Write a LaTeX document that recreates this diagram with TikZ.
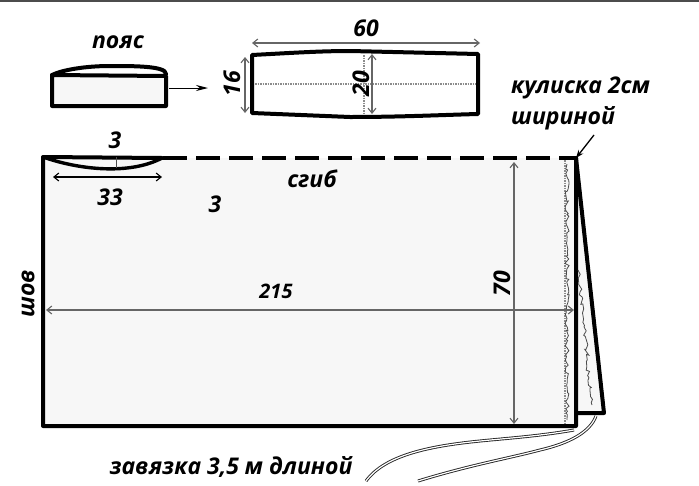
\documentclass[tikz,border=0pt]{standalone}
\usepackage{fontspec}
\setmainfont{Open Sans}
\usetikzlibrary{arrows.meta,decorations.pathmorphing}
\tikzset{
  contour/.style={line width=4pt, line join=round, line cap=round},
  foldline/.style={line width=4pt, dash pattern=on 24pt off 9pt},
  dimline/.style={black!60, line width=1.1pt, {Straight Barb[length=5pt,width=8pt]}-{Straight Barb[length=5pt,width=8pt]}},
  dotline/.style={black!45, line width=1.5pt, densely dotted},
  stitch/.style={black!70, line width=0.8pt, decorate, decoration={random steps, segment length=3pt, amplitude=2.2pt}},
  tie/.style={black!85, line width=0.9pt, double=white, double distance=1.2pt},
  lbl/.style={font=\bfseries\itshape\fontsize{23}{25}\selectfont, inner sep=0pt},
  lblsmall/.style={font=\bfseries\itshape\fontsize{20}{22}\selectfont, inner sep=0pt}
}
\begin{document}
\begin{tikzpicture}[x=1pt, y=-1pt]
  \useasboundingbox (0,0) rectangle (699,485);
  \fill[white] (0,0) rectangle (699,485);
  \fill[black!70] (0,0) rectangle (699,2);

  % points for the measures
  \coordinate (waistA) at (252,43);
  \coordinate (waistB) at (480,43);
  \coordinate (sideA) at (245,57);
  \coordinate (sideB) at (245,113);
  \coordinate (midA) at (372,54);
  \coordinate (midB) at (372,114);
  \coordinate (openA) at (53,177);
  \coordinate (openB) at (162,177);
  \coordinate (lenA) at (46,310);
  \coordinate (lenB) at (574,310);
  \coordinate (highA) at (514,162);
  \coordinate (highB) at (514,424);
  \coordinate (beltA) at (169,88);
  \coordinate (beltB) at (208,88);
  \coordinate (flapA) at (594,135);
  \coordinate (flapB) at (576,158);

  % panel
  \fill[black!3] (43,158) rectangle (576,426);
  \fill[black!3] (576,158) -- (604,413) -- (576,413) -- cycle;
  \draw[contour] (162,158) -- (43,157) -- (43,426) -- (576,426) -- (576,158);
  \draw[foldline] (163,158) -- (576,158);
  \draw[contour, line width=3.4pt] (43,157) .. controls (80,170) and (130,175) .. (162,158);
  \draw[black!70, line width=0.7pt] (116,157) -- (116,168);

  % casing flap
  \draw[contour] (576,158) -- (604,413) -- (578,413);
  \draw[dotline] (565,160) -- (565,424);
  \draw[stitch] (567,164) -- (567,420);
  \draw[stitch] (578,270) -- (592,405);

  % ties
  \draw[tie] (574,430) .. controls (540,436) and (510,438) .. (480,441) .. controls (430,446) and (385,455) .. (366,481);
  \draw[tie] (596,416) .. controls (590,432) and (570,443) .. (540,450) .. controls (510,458) and (470,465) .. (418,481);

  % small belt
  \fill[black!3] (52,76) rectangle (166,105);
  \draw[contour] (52,106) -- (52,75) -- (166,76) -- (166,106) -- cycle;
  \draw[contour] (52,75) .. controls (62,70) and (85,66) .. (110,66) .. controls (135,66) and (166,66) .. (166,74);
  \draw[black, line width=1pt, -{Stealth[length=12pt,width=6pt]}] (beltA) -- (beltB);

  % open belt
  \draw[contour] (252,55) .. controls (290,53) and (320,51) .. (350,51) -- (478,54) -- (478,114) .. controls (440,115) and (400,117) .. (350,117) -- (252,113) -- cycle;
  \draw[dotline] (255,84) -- (476,84);
  \draw[dotline] (364,55) -- (364,115);

  % measures
  \draw[dimline] (waistA) -- (waistB);
  \draw[dimline] (sideA) -- (sideB);
  \draw[dimline] (midA) -- (midB);
  \draw[dimline, black] (openA) -- (openB);
  \draw[dimline] (lenA) -- (lenB);
  \draw[dimline] (highA) -- (highB);
  \draw[black, line width=1.3pt, -{Stealth[length=8pt,width=6pt]}] (flapA) -- (flapB);

  % labels
  \node[lbl] (beltname) at (118,42) {пояс};
  \node[lbl] (waistlen) at (366,28) {60};
  \node[lbl, rotate=90] (sidelen) at (232,84) {16};
  \node[lbl, rotate=90] (midlen) at (361,84) {20};
  \node[lbl] (cutdepth) at (115,140) {3};
  \node[lbl] (cutlen) at (110,197) {33};
  \node[lbl] (foldname) at (312,179) {сгиб};
  \node[lbl] (panelmark) at (215,204) {3};
  \node[lblsmall] (panellen) at (276,291) {215};
  \node[lbl, rotate=90] (panelhigh) at (502,284) {70};
  \node[lbl, rotate=90] (seamname) at (28,294) {шов};
  \node[lbl, anchor=west] (casing) at (511,88) {кулиска 2см};
  \node[lbl, anchor=west] (casingb) at (511,118) {шириной};
  \node[lbl] (tiename) at (231,467) {завязка 3,5 м длиной};
\end{tikzpicture}
\end{document}
